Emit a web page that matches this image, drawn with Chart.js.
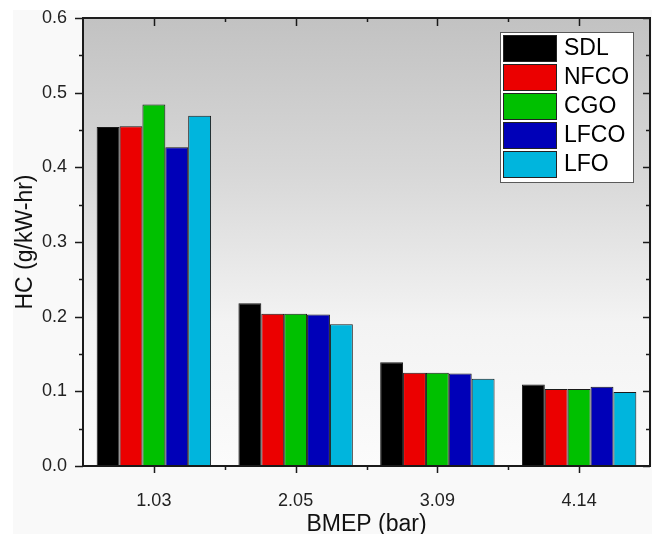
<!DOCTYPE html>
<html>
<head>
<meta charset="utf-8">
<title>HC vs BMEP</title>
<script src="https://cdn.jsdelivr.net/npm/chart.js@4/dist/chart.umd.min.js"></script>
<style>
  html, body { margin: 0; padding: 0; background: #fff; overflow: hidden; }
  canvas { display: block; }
</style>
</head>
<body>
<canvas id="hcChart" width="662" height="534"></canvas>
<script>
// BMEP loads (bar) and HC emission per fuel (g/kW-hr)
const bmep = ['1.03', '2.05', '3.09', '4.14'];
const fuels = ['SDL', 'NFCO', 'CGO', 'LFCO', 'LFO'];
const sdl  = [0.454, 0.218, 0.139, 0.109];
const nfco = [0.455, 0.204, 0.125, 0.103];
const cgo  = [0.484, 0.204, 0.125, 0.103];
const lfco = [0.427, 0.203, 0.124, 0.106];
const lfo  = [0.469, 0.190, 0.117, 0.099];
const yTicks = [0, 0.1, 0.2, 0.3, 0.4, 0.5, 0.6];

const series = [sdl, nfco, cgo, lfco, lfo];
const colors = ['#000000', '#eb0000', '#00c000', '#0000b8', '#00b5dd'];
const FONT = 'Arial, "Liberation Sans", Helvetica, sans-serif';
const AXIS = '#1a1a1a';

// grey panel + gradient plot background
const backdrop = {
  id: 'backdrop',
  beforeDraw(chart) {
    const { ctx, chartArea: a } = chart;
    ctx.save();
    ctx.fillStyle = '#f9f9f9';
    ctx.fillRect(13, 10, 639, chart.height - 10);
    const g = ctx.createLinearGradient(0, a.top, 0, a.bottom);
    g.addColorStop(0, '#c2c2c2');
    g.addColorStop(0.35, '#d8d8d8');
    g.addColorStop(0.68, '#f3f3f3');
    g.addColorStop(1, '#fbfbfb');
    ctx.fillStyle = g;
    ctx.fillRect(a.left, a.top, a.right - a.left, a.bottom - a.top);
    ctx.restore();
  }
};

// frame, major/minor ticks and the boxed legend
const frame = {
  id: 'frame',
  afterDraw(chart) {
    const { ctx, chartArea: a, scales: { x, y } } = chart;
    ctx.save();
    ctx.strokeStyle = AXIS;
    ctx.lineWidth = 2;
    ctx.strokeRect(a.left, a.top, a.right - a.left, a.bottom - a.top);

    ctx.lineWidth = 1.5;
    ctx.beginPath();
    for (let i = 0; i <= 12; i++) {
      const py = Math.round(y.getPixelForValue(i * 0.05)) + 0.5;
      const major = i % 2 === 0;
      ctx.moveTo(a.left, py); ctx.lineTo(a.left - (major ? 8 : 4), py);
      ctx.moveTo(a.right, py); ctx.lineTo(a.right - (major ? 7 : 4), py);
    }
    for (let i = 0; i < bmep.length; i++) {
      const px = Math.round(x.getPixelForValue(i)) + 0.5;
      ctx.moveTo(px, a.bottom); ctx.lineTo(px, a.bottom + 7);
      ctx.moveTo(px, a.top); ctx.lineTo(px, a.top + 8);
      if (i > 0) {
        const bx = Math.round((x.getPixelForValue(i) + x.getPixelForValue(i - 1)) / 2) + 0.5;
        ctx.moveTo(bx, a.bottom); ctx.lineTo(bx, a.bottom + 4);
        ctx.moveTo(bx, a.top); ctx.lineTo(bx, a.top + 4);
      }
    }
    ctx.stroke();

    // legend
    const lx = a.right - 150, ly = a.top + 14, lw = 133, lh = 150;
    ctx.fillStyle = '#ffffff';
    ctx.fillRect(lx, ly, lw, lh);
    ctx.strokeStyle = '#5a5a5a';
    ctx.lineWidth = 1;
    ctx.strokeRect(lx + 0.5, ly + 0.5, lw, lh);
    ctx.font = '23px ' + FONT;
    ctx.textBaseline = 'middle';
    chart.data.datasets.forEach((ds, i) => {
      const sy = ly + 3 + i * 29;
      ctx.fillStyle = ds.backgroundColor;
      ctx.fillRect(lx + 3, sy, 54, 27);
      ctx.strokeStyle = '#222';
      ctx.strokeRect(lx + 3.5, sy + 0.5, 53, 26);
      ctx.fillStyle = '#000';
      ctx.fillText(ds.label, lx + 64, sy + 14);
    });
    ctx.restore();
  }
};

new Chart(document.getElementById('hcChart'), {
  type: 'bar',
  data: {
    labels: bmep,
    datasets: fuels.map((name, i) => ({
      label: name,
      data: series[i],
      backgroundColor: colors[i],
      borderColor: '#1a1a1a',
      borderWidth: 1,
      borderSkipped: false,
      categoryPercentage: 0.807,
      barPercentage: 1
    }))
  },
  options: {
    responsive: false,
    animation: false,
    devicePixelRatio: 1,
    layout: { padding: { top: 18, right: 12, left: 0, bottom: 0 } },
    plugins: { legend: { display: false }, tooltip: { enabled: false } },
    scales: {
      x: {
        offset: true,
        grid: { display: false, drawTicks: false },
        border: { display: false },
        ticks: { color: '#222', padding: 24, font: { family: FONT, size: 18 } },
        title: {
          display: true, text: 'BMEP (bar)', color: '#111',
          padding: 0, font: { family: FONT, size: 23, lineHeight: 0.85 }
        },
        afterFit(scale) { scale.height = 68; }
      },
      y: {
        min: 0,
        max: 0.6,
        grid: { display: false, drawTicks: false },
        border: { display: false },
        afterBuildTicks(scale) { scale.ticks = yTicks.map(v => ({ value: v })); },
        ticks: {
          color: '#222', padding: 16, font: { family: FONT, size: 18 },
          callback: v => Number(v).toFixed(1)
        },
        title: {
          display: true, text: 'HC (g/kW-hr)', color: '#111',
          padding: { top: 12, bottom: 0 }, font: { family: FONT, size: 23 }
        },
        afterFit(scale) {
          scale.width = 83;
          // let the layout padding alone decide the plot top
          scale.paddingTop = 0;
          scale.paddingBottom = 0;
        }
      }
    }
  },
  plugins: [backdrop, frame]
});
</script>
</body>
</html>
